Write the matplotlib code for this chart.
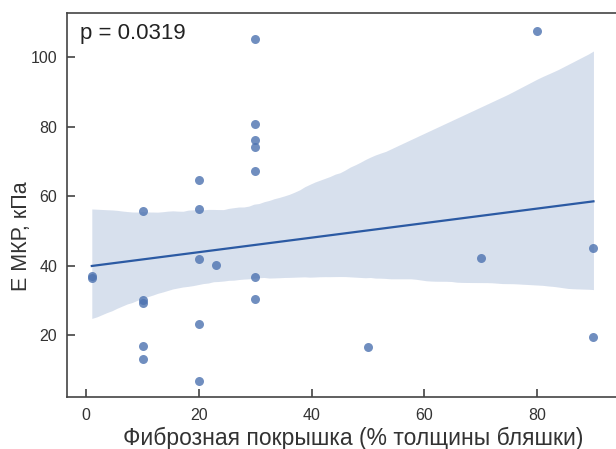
import numpy as np
import matplotlib
matplotlib.use("Agg")
import matplotlib.pyplot as plt

x_vals = [1, 1, 10, 10, 10, 10, 10, 20, 20, 20, 20, 20, 23,
          30, 30, 30, 30, 30, 30, 30, 50, 70, 80, 90, 90]
y_vals = [36.5, 37.0, 55.8, 30.0, 29.2, 16.8, 13.1, 64.6, 56.3, 41.9, 23.2, 6.8, 40.1,
          105.1, 80.8, 76.1, 74.1, 67.2, 36.7, 30.4, 16.5, 42.2, 107.5, 45.0, 19.4]
p_text = "p = 0.0319"
x_label = "Фиброзная покрышка (% толщины бляшки)"
y_label = "E МКР, кПа"
x_ticks = [0, 20, 40, 60, 80]
y_ticks = [20, 40, 60, 80, 100]

plt.rcParams['font.family'] = ['Liberation Sans', 'DejaVu Sans']

x = np.array(x_vals, float)
y = np.array(y_vals, float)

fig = plt.figure(figsize=(6.16, 4.49), dpi=100)
ax = fig.add_axes([67 / 616, 1 - 397 / 449, (616 - 67) / 616 + 0.01, (397 - 13) / 449])

# regression + bootstrap CI (seaborn-like)
grid = np.linspace(x.min(), x.max(), 100)
slope, intercept = np.polyfit(x, y, 1)
rng = np.random.default_rng(3)
boots = []
n = len(x)
for _ in range(1000):
    idx = rng.integers(0, n, n)
    xb, yb = x[idx], y[idx]
    if np.ptp(xb) == 0:
        continue
    s, i = np.polyfit(xb, yb, 1)
    boots.append(s * grid + i)
boots = np.array(boots)
lo, hi = np.percentile(boots, [2.5, 97.5], axis=0)

ax.fill_between(grid, lo, hi, color='#4c72b0', alpha=0.22, linewidth=0)
ax.plot(grid, slope * grid + intercept, color='#2b5aa3', linewidth=1.6)
ax.scatter(x, y, s=42, color='#4c72b0', alpha=0.8, linewidths=0, zorder=3)

ax.set_xlim(-3.4, 94.0 + 0.01 * 616 / 5.64)
ax.set_ylim(2.2, 112.7)
ax.set_xticks(x_ticks)
ax.set_yticks(y_ticks)
ax.tick_params(axis='x', direction='in', length=5.5, width=1.1, colors='#333333',
               labelsize=11.5, labelcolor='#333333', pad=8)
ax.tick_params(axis='y', direction='in', length=5.5, width=1.1, colors='#333333',
               labelsize=11.5, labelcolor='#333333', pad=7)
for side in ['left', 'bottom', 'top']:
    ax.spines[side].set_color('#444444')
    ax.spines[side].set_linewidth(1.2)
ax.spines['right'].set_visible(False)

ax.set_xlabel(x_label, fontsize=16.5, color='#333333')
ax.set_ylabel(y_label, fontsize=15.5, color='#333333')
ax.xaxis.set_label_coords((350 - 67) / 549, (397 - 438) / 384)
ax.yaxis.set_label_coords((22 - 67) / 549, (397 - 236) / 384)
ax.xaxis.label.set_va('center')
ax.yaxis.label.set_va('center')
ax.text(0.024, 0.975, p_text, transform=ax.transAxes, fontsize=16,
        color='#222222', va='top', ha='left')

fig.savefig("out.png", dpi=100)
